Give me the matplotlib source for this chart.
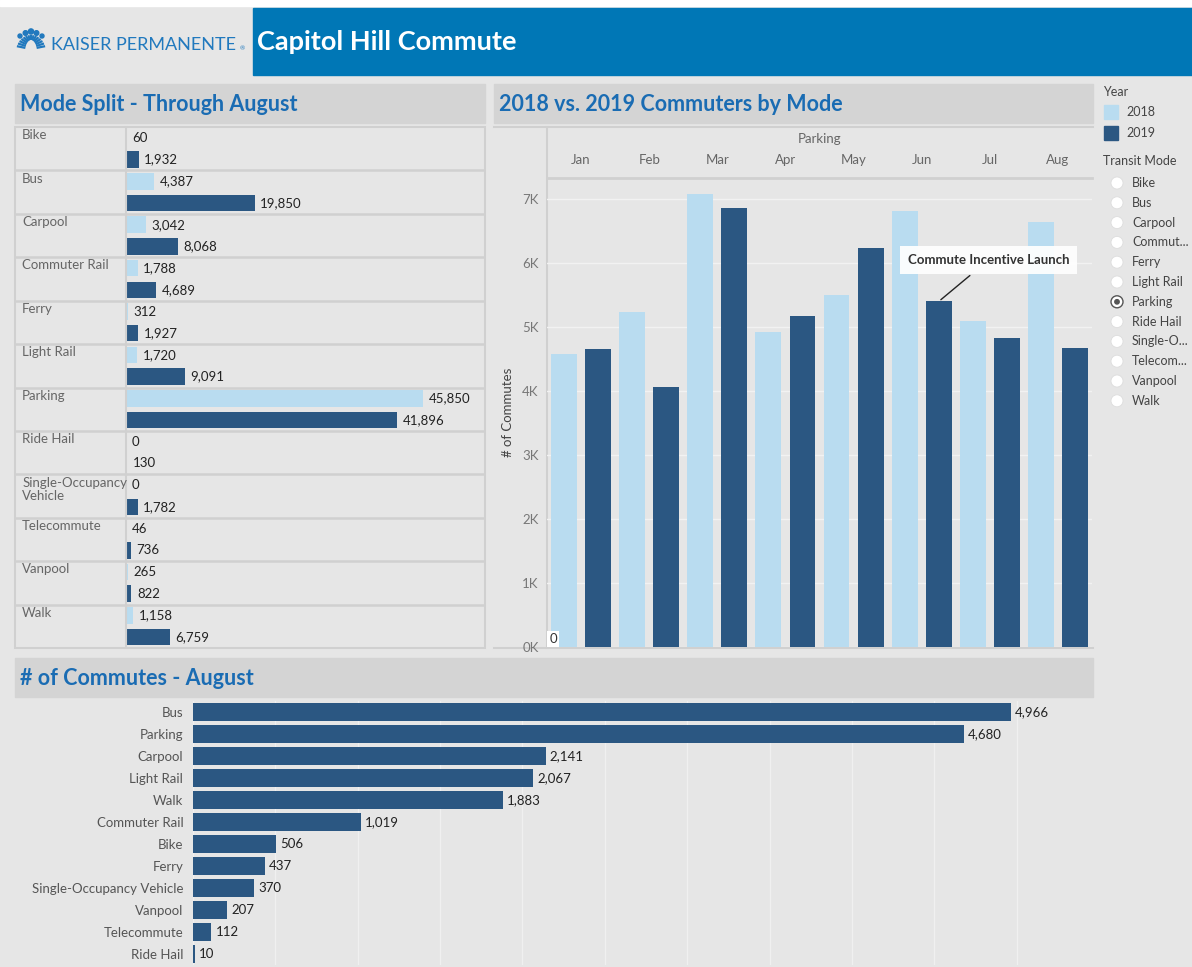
import numpy as np
import matplotlib
matplotlib.use("Agg")
import matplotlib.pyplot as plt
from matplotlib.patches import Rectangle, Circle
from matplotlib.ticker import FuncFormatter

plt.rcParams['font.family'] = ['Lato', 'DejaVu Sans']

W, H = 1192, 967

# ---- data ----
modes = ["Bike", "Bus", "Carpool", "Commuter Rail", "Ferry", "Light Rail", "Parking",
         "Ride Hail", "Single-Occupancy\nVehicle", "Telecommute", "Vanpool", "Walk"]
split_2018 = [60, 4387, 3042, 1788, 312, 1720, 45850, 0, 0, 46, 265, 1158]
split_2019 = [1932, 19850, 8068, 4689, 1927, 9091, 41896, 130, 1782, 736, 822, 6759]

months = ["Jan", "Feb", "Mar", "Apr", "May", "Jun", "Jul", "Aug"]
parking_2018 = [4580, 5230, 7080, 4920, 5500, 6810, 5090, 6640]
parking_2019 = [4650, 4056, 6860, 5180, 6240, 5400, 4830, 4680]

aug_modes = ["Bus", "Parking", "Carpool", "Light Rail", "Walk", "Commuter Rail", "Bike",
             "Ferry", "Single-Occupancy Vehicle", "Vanpool", "Telecommute", "Ride Hail"]
aug_values = [4966, 4680, 2141, 2067, 1883, 1019, 506, 437, 370, 207, 112, 10]

legend_modes = ["Bike", "Bus", "Carpool", "Commut...", "Ferry", "Light Rail", "Parking",
                "Ride Hail", "Single-O...", "Telecom...", "Vanpool", "Walk"]
selected_mode = "Parking"

# ---- style ----
C18 = "#b9dcf0"
C19 = "#2b5782"
BG = "#e6e6e6"
HEAD = "#d4d4d4"
LINE = "#d0d0d0"
TITLE_BLUE = "#1a6cb3"
GRAY_TXT = "#666666"

fig = plt.figure(figsize=(W / 100, H / 100), dpi=100)
fig.patch.set_facecolor(BG)


def px_axes(x0, y0, x1, y1, **kw):
    return fig.add_axes([x0 / W, 1 - y1 / H, (x1 - x0) / W, (y1 - y0) / H], **kw)


# background layer in pixel coordinates
bg = px_axes(0, 0, W, H, zorder=0)
bg.set_xlim(0, W)
bg.set_ylim(H, 0)
bg.axis("off")

bg.add_patch(Rectangle((0, 0), W, 6, color="white"))
bg.add_patch(Rectangle((253, 8), W - 253, 67, color="#0077b6"))
bg.text(257, 42, "Capitol Hill Commute", color="white", fontsize=19.5, fontweight="bold",
        va="center", ha="left")

# logo
KP = "#2179be"
bg.text(51, 45, "KAISER PERMANENTE", color=KP, fontsize=13, va="center", ha="left")
bg.text(240, 49, "®", color=KP, fontsize=4.5, va="center", ha="left")
for cx, cy, r in [(20, 36, 2.0), (25.5, 33, 2.3), (31, 31.5, 2.6), (36.5, 33, 2.3), (42, 36, 2.0)]:
    bg.add_patch(Circle((cx, cy), r, color=KP))
for ang in np.linspace(200, 340, 15):
    a = np.deg2rad(ang)
    bg.plot([31 + 6 * np.cos(a), 31 + 15 * np.cos(a)], [52 + 12 * np.sin(a), 52 + 17 * np.sin(a)],
            color=KP, lw=1.6, solid_capstyle="butt")

# panel headers
for (x0, y0, x1, y1, txt) in [(15, 84, 485, 123, "Mode Split - Through August"),
                              (494, 84, 1093, 123, "2018 vs. 2019 Commuters by Mode"),
                              (15, 658, 1093, 697, "# of Commutes - August")]:
    bg.add_patch(Rectangle((x0, y0), x1 - x0, y1 - y0, color=HEAD))
    bg.text(x0 + 5, (y0 + y1) / 2 + 1, txt, color=TITLE_BLUE, fontsize=15.5,
            fontweight="bold", va="center", ha="left")

# left panel frame
bg.add_patch(Rectangle((15, 127), 470, 521, fill=False, ec=LINE, lw=1.5))
# middle panel frame pieces
bg.plot([547, 547], [127, 648], color=LINE, lw=1.5)
bg.plot([494, 1093], [648, 648], color=LINE, lw=1.5)
bg.plot([494, 1093], [127, 127], color=LINE, lw=1.5)

# ---- left: mode split ----
ax1 = px_axes(126, 127, 484, 648, zorder=2)
ax1.set_facecolor("none")
y = np.arange(len(modes))
ax1.barh(y - 0.25, split_2018, height=0.38, color=C18)
ax1.barh(y + 0.25, split_2019, height=0.38, color=C19)
ax1.set_xlim(0, 55300)
ax1.set_ylim(len(modes) - 0.5, -0.5)
for i in range(len(modes)):
    for v, off in [(split_2018[i], -0.25), (split_2019[i], 0.25)]:
        ax1.annotate(f"{v:,}", (v, i + off), xytext=(4, 0), textcoords="offset points",
                     va="center", ha="left", fontsize=9.5, color="#222222")
    ax1.text(-0.29, i - 0.45, modes[i], transform=ax1.get_yaxis_transform(),
             va="top", ha="left", fontsize=9.5, color=GRAY_TXT, linespacing=1.15)
    if i < len(modes) - 1:
        ax1.plot([-0.31, 1], [i + 0.5, i + 0.5], transform=ax1.get_yaxis_transform(),
                 color=LINE, lw=1.8, clip_on=False)
ax1.set_xticks([])
ax1.set_yticks([])
for s in ["top", "right", "bottom"]:
    ax1.spines[s].set_visible(False)
ax1.spines["left"].set_color(LINE)
ax1.spines["left"].set_linewidth(1.5)

# ---- middle: parking by month ----
ax2 = px_axes(547, 178, 1092, 647, zorder=2)
ax2.set_facecolor("none")
x = np.arange(len(months))
ax2.bar(x - 0.25, parking_2018, width=0.38, color=C18, zorder=2)
ax2.bar(x + 0.25, parking_2019, width=0.38, color=C19, zorder=2)
ax2.set_xlim(-0.5, len(months) - 0.5)
ax2.set_ylim(0, 7330)
ax2.set_yticks(np.arange(0, 7001, 1000))
ax2.yaxis.set_major_formatter(FuncFormatter(lambda v, p: f"{v / 1000:.0f}K"))
ax2.tick_params(axis="y", length=0, colors="#777777", labelsize=9.5, pad=6)
ax2.set_xticks([])
ax2.grid(axis="y", color="#f2f2f2", lw=1, zorder=0)
ax2.set_ylabel("# of Commutes", color="#444444", fontsize=9.5, labelpad=6)
for s in ["right", "bottom", "left"]:
    ax2.spines[s].set_visible(False)
ax2.spines["top"].set_color(LINE)
ax2.spines["top"].set_linewidth(2)
tr = ax2.get_xaxis_transform()
for i, m in enumerate(months):
    ax2.text(i, 1.038, m, transform=tr, ha="center", va="center", fontsize=9.5, color="#666666")
ax2.text(0.5, 1.084, selected_mode, transform=ax2.transAxes, ha="center", va="center",
         fontsize=9.5, color="#666666")
ax2.text(0.004, 0.004, "0", transform=ax2.transAxes, ha="left", va="bottom", fontsize=9.5,
         color="#333333", bbox=dict(boxstyle="square,pad=0.15", fc="white", ec="none"), zorder=5)
jun = months.index("Jun")
ax2.annotate("Commute Incentive Launch", xy=(jun + 0.25, parking_2019[jun]),
             xytext=(36, 30), textcoords="offset points", ha="center", va="center",
             fontsize=9.5, fontweight="bold", color="#333333", zorder=6,
             bbox=dict(boxstyle="square,pad=0.6", fc="white", ec="none", alpha=0.92),
             arrowprops=dict(arrowstyle="-", color="#222222", lw=1))

# ---- legend ----
bg.text(1103, 92, "Year", fontsize=9, color="#444444", va="center")
for k, (lab, col) in enumerate([("2018", C18), ("2019", C19)]):
    yy = 112 + k * 21
    bg.add_patch(Rectangle((1104, yy - 7), 14, 14, color=col))
    bg.text(1126, yy, lab, fontsize=9, color="#444444", va="center")
bg.text(1103, 161, "Transit Mode", fontsize=9, color="#444444", va="center")
for k, lab in enumerate(legend_modes):
    yy = 183 + k * 19.8
    bg.add_patch(Circle((1117, yy), 6, fc="white", ec="#dddddd", lw=0.6))
    if lab == selected_mode:
        bg.add_patch(Circle((1117, yy), 6, fc="white", ec="#555555", lw=1))
        bg.add_patch(Circle((1117, yy), 2.2, color="#555555"))
    bg.text(1132, yy, lab, fontsize=9, color="#444444", va="center")

# ---- bottom: August ----
ax3 = px_axes(193, 701, 1093, 965, zorder=2)
ax3.set_facecolor("none")
yb = np.arange(len(aug_modes))
ax3.barh(yb, aug_values, height=0.78, color=C19, zorder=2)
ax3.set_xlim(0, 5464)
ax3.set_ylim(len(aug_modes) - 0.5, -0.5)
ax3.set_xticks(np.arange(0, 5464, 500))
ax3.set_xticklabels([])
ax3.tick_params(axis="x", length=0)
ax3.grid(axis="x", color="#f0f0f0", lw=1, zorder=0)
ax3.set_yticks(yb)
ax3.set_yticklabels(aug_modes)
ax3.tick_params(axis="y", length=0, colors="#555555", labelsize=9.5, pad=7)
for s in ["top", "right", "bottom", "left"]:
    ax3.spines[s].set_visible(False)
for i, v in enumerate(aug_values):
    ax3.annotate(f"{v:,}", (v, i), xytext=(3, 0), textcoords="offset points",
                 va="center", ha="left", fontsize=9.5, color="#222222")

fig.savefig("out.png", dpi=100, facecolor=fig.get_facecolor())
